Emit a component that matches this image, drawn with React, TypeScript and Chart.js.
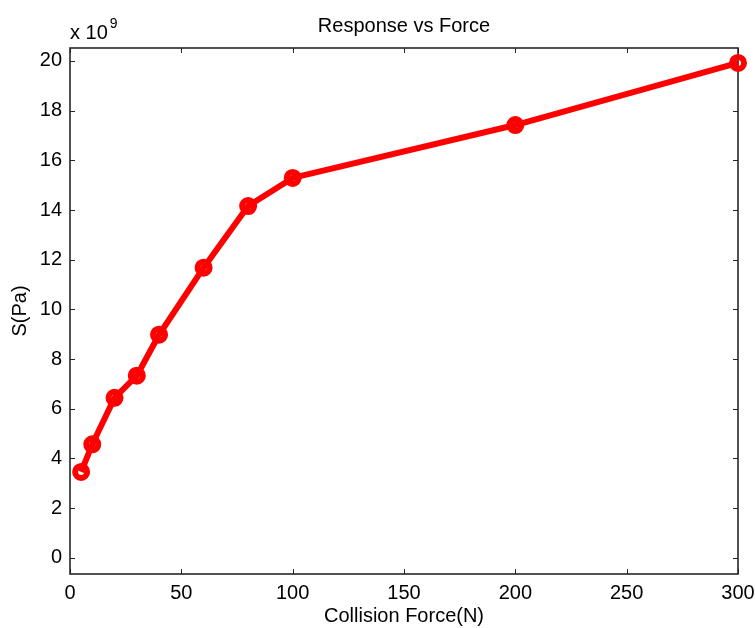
import React, { useEffect, useRef } from "react";
import { Chart, registerables } from "chart.js";

Chart.register(...registerables);

const forces = [5, 10, 20, 30, 40, 60, 80, 100, 200, 300];
const stress = [3.46, 4.57, 6.44, 7.33, 8.98, 11.68, 14.16, 15.29, 17.42, 19.92];
const xTicks = [0, 50, 100, 150, 200, 250, 300];
const yTicks = [0, 2, 4, 6, 8, 10, 12, 14, 16, 18, 20];
const chartTitle = "Response vs Force";
const xLabel = "Collision Force(N)";
const yLabel = "S(Pa)";
const exponentBase = "x 10";
const exponentPower = "9";

const FONT = "'Liberation Sans', Arial, Helvetica, sans-serif";
const FS = 20;

const frame = {
  id: "matlabFrame",
  beforeDatasetsDraw(chart: any) {
    const { ctx, chartArea } = chart;
    const { left, top, right, bottom } = chartArea;
    const xs = chart.scales.x;
    const ys = chart.scales.y;
    ctx.save();
    ctx.strokeStyle = "#262626";
    ctx.lineWidth = 1.6;
    ctx.strokeRect(left, top, right - left, bottom - top);
    ctx.lineWidth = 1;
    ctx.beginPath();
    const tl = 5;
    xTicks.forEach((v) => {
      const px = Math.round(xs.getPixelForValue(v)) + 0.5;
      ctx.moveTo(px, bottom);
      ctx.lineTo(px, bottom - tl);
      ctx.moveTo(px, top);
      ctx.lineTo(px, top + tl);
    });
    yTicks.forEach((v) => {
      const py = Math.round(ys.getPixelForValue(v)) + 0.5;
      ctx.moveTo(left, py);
      ctx.lineTo(left + tl, py);
      ctx.moveTo(right, py);
      ctx.lineTo(right - tl, py);
    });
    ctx.stroke();
    ctx.restore();
  },
  afterDraw(chart: any) {
    const { ctx, chartArea } = chart;
    ctx.save();
    ctx.fillStyle = "#000";
    ctx.font = `${FS}px ${FONT}`;
    ctx.textAlign = "center";
    ctx.textBaseline = "alphabetic";
    ctx.fillText(chartTitle, (chartArea.left + chartArea.right) / 2, 31.5);
    ctx.textAlign = "left";
    ctx.fillText(exponentBase, chartArea.left, 39);
    const w = ctx.measureText(exponentBase).width;
    ctx.font = `14px ${FONT}`;
    ctx.fillText(exponentPower, chartArea.left + w + 2, 28);
    ctx.restore();
  },
};

export default function App() {
  const ref = useRef<HTMLCanvasElement | null>(null);
  useEffect(() => {
    if (!ref.current) return;
    const chart = new Chart(ref.current, {
      type: "line",
      data: {
        datasets: [
          {
            data: forces.map((f, i) => ({ x: f, y: stress[i] })),
            borderColor: "#ff0000",
            backgroundColor: "#ff0000",
            borderWidth: 6,
            pointRadius: 6,
            pointBorderWidth: 6,
            pointBorderColor: "#ff0000",
            pointBackgroundColor: "rgba(0,0,0,0)",
            tension: 0,
            clip: false as any,
            borderJoinStyle: "round",
          },
        ],
      },
      options: {
        animation: false,
        responsive: true,
        maintainAspectRatio: false,
        layout: { padding: { left: 0, right: 18, top: 0, bottom: 0 } },
        plugins: { legend: { display: false }, tooltip: { enabled: false }, title: { display: false } },
        scales: {
          x: {
            type: "linear",
            position: "bottom",
            min: 0,
            max: 300,
            afterBuildTicks: (s: any) => {
              s.ticks = xTicks.map((v) => ({ value: v }));
            },
            afterFit: (s: any) => {
              s.height = 54;
              s.paddingLeft = 0;
              s.paddingRight = 0;
            },
            ticks: { font: { size: FS, family: FONT }, color: "#000", padding: 7, maxRotation: 0, autoSkip: false },
            grid: { display: false, drawTicks: false },
            border: { display: false },
            title: {
              display: true,
              text: xLabel,
              color: "#000",
              font: { size: FS, family: FONT },
              padding: { top: 0, bottom: 0 },
            },
          },
          x2: {
            type: "linear",
            position: "top",
            display: true,
            min: 0,
            max: 300,
            ticks: { display: false },
            grid: { display: false, drawTicks: false },
            border: { display: false },
            afterFit: (s: any) => {
              s.height = 48;
              s.paddingLeft = 0;
              s.paddingRight = 0;
            },
          },
          y: {
            type: "linear",
            position: "left",
            min: -0.65,
            max: 20.52,
            afterBuildTicks: (s: any) => {
              s.ticks = yTicks.map((v) => ({ value: v }));
            },
            afterFit: (s: any) => {
              s.width = 70;
              s.paddingTop = 0;
              s.paddingBottom = 0;
            },
            ticks: { font: { size: FS, family: FONT }, color: "#000", padding: 8, autoSkip: false },
            grid: { display: false, drawTicks: false },
            border: { display: false },
            title: {
              display: true,
              text: yLabel,
              color: "#000",
              font: { size: FS, family: FONT },
              padding: { top: 8, bottom: 0 },
            },
          },
        },
      },
      plugins: [frame],
    });
    return () => chart.destroy();
  }, []);
  return (
    <div style={{ position: "absolute", left: 0, top: 0, width: 756, height: 628, background: "#fff" }}>
      <canvas ref={ref} />
    </div>
  );
}
